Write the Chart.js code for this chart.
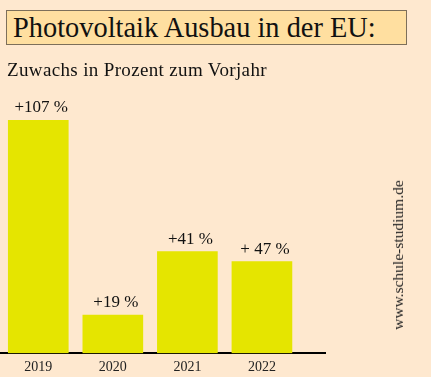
<!DOCTYPE html>
<html>
<head>
<meta charset="utf-8">
<script src="https://cdn.jsdelivr.net/npm/chart.js@4"></script>
<style>
  html, body { margin: 0; padding: 0; background: #FEE8CF; width: 431px; height: 377px; overflow: hidden; }
  #wrap { position: absolute; left: 0; top: 0; width: 431px; height: 377px; }
  #title { position: absolute; left: 6px; top: 10px; width: 401px; height: 35px; box-sizing: border-box;
           border: 1px solid #7d6f5a; background: #FFDFA0; font-family: "Liberation Serif", serif;
           font-size: 28.4px; line-height: 33px; padding-left: 6px; color: #111; white-space: nowrap; }
  #subtitle { position: absolute; left: 7px; top: 60px; font-family: "Liberation Serif", serif;
              font-size: 19px; letter-spacing: 0.35px; line-height: 20px; color: #111; white-space: nowrap; }
  #mark { position: absolute; left: 398px; top: 255px; transform: translate(-50%, -50%) rotate(-90deg);
          font-family: "Liberation Serif", serif; font-size: 15.5px; color: #222; white-space: nowrap; }
</style>
</head>
<body>
<div id="wrap"><canvas id="c" width="431" height="377"></canvas></div>
<div id="title">Photovoltaik Ausbau in der EU:</div>
<div id="subtitle">Zuwachs in Prozent zum Vorjahr</div>
<div id="mark">www.schule-studium.de</div>
<script>
const years = ['2019', '2020', '2021', '2022'];
// bar heights as drawn in the picture (percent)
const barHeights = [107, 17.5, 46.6, 42];
// value labels as printed above the bars
const valueLabels = ['+107 %', '+19 %', '+41 %', '+ 47 %'];

const labelPlugin = {
  id: 'valueLabels',
  afterDatasetsDraw(chart) {
    const ctx = chart.ctx;
    const meta = chart.getDatasetMeta(0);
    ctx.save();
    ctx.font = '17px "Liberation Serif", serif';
    ctx.fillStyle = '#111';
    ctx.textAlign = 'center';
    ctx.textBaseline = 'alphabetic';
    meta.data.forEach((bar, i) => {
      ctx.fillText(valueLabels[i], bar.x + 3, bar.y - 8);
    });
    ctx.restore();
  }
};

new Chart(document.getElementById('c'), {
  type: 'bar',
  data: {
    datasets: [{
      data: barHeights.map((v, i) => ({ x: i, y: v })),
      backgroundColor: '#E5E500',
      borderWidth: 0,
      barThickness: 60
    }]
  },
  options: {
    responsive: false,
    animation: false,
    layout: { padding: { left: 1, right: 106, top: 120, bottom: -5 } },
    plugins: { legend: { display: false }, tooltip: { enabled: false } },
    scales: {
      x: {
        type: 'linear',
        offset: false,
        min: -0.5,
        max: 3.846,
        grid: { display: false, drawTicks: false },
        border: { display: true, color: '#000', width: 2 },
        ticks: {
          stepSize: 1,
          includeBounds: false,
          padding: 6,
          color: '#222',
          font: { family: '"Liberation Serif", serif', size: 14 },
          callback: (v) => Number.isInteger(v) && years[v] !== undefined ? years[v] : ''
        }
      },
      y: { display: false, min: 0, max: 107 }
    }
  },
  plugins: [labelPlugin]
});
</script>
</body>
</html>
